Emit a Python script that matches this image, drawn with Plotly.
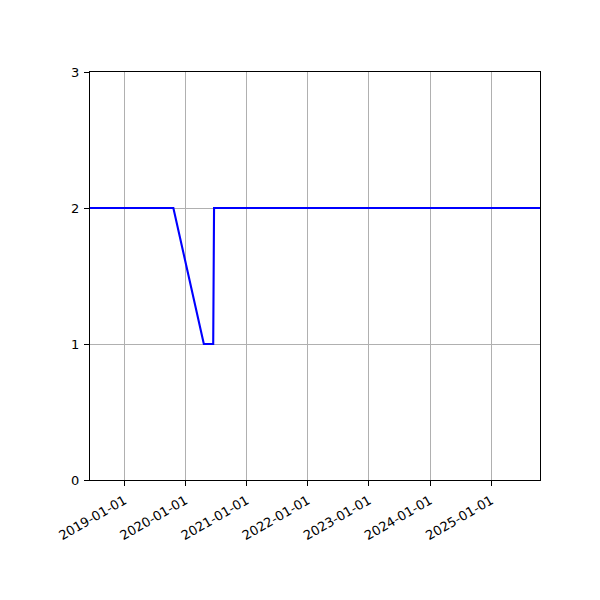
import plotly.graph_objects as go

# values
dates = ["2018-06-10", "2019-10-21", "2020-04-20", "2020-06-15",
         "2020-06-20", "2025-10-19"]
values = [2, 2, 1, 1, 2, 2]

x_ticks = ["2019-01-01", "2020-01-01", "2021-01-01", "2022-01-01",
           "2023-01-01", "2024-01-01", "2025-01-01"]
y_ticks = [0, 1, 2, 3]

fig = go.Figure(go.Scatter(x=dates, y=values, mode="lines",
                           line=dict(color="#0000ff", width=2.1),
                           showlegend=False))

axis_style = dict(showline=True, linecolor="black", linewidth=1.1,
                  mirror=True, ticks="outside", ticklen=5, tickwidth=1.1,
                  tickcolor="black", showgrid=True, gridcolor="#b0b0b0",
                  gridwidth=1.1, zeroline=False, ticklabelstandoff=2)

fig.update_xaxes(type="date", range=[dates[0], dates[-1]],
                 tickvals=x_ticks, ticktext=x_ticks, tickangle=-30,
                 **axis_style)
fig.update_yaxes(range=[0, 3], tickvals=y_ticks, **axis_style)

# page body adds ~8px offset, so margins are shifted to compensate
fig.update_layout(width=600, height=600,
                  margin=dict(l=82, r=68, t=64, b=128),
                  plot_bgcolor="white", paper_bgcolor="white",
                  font=dict(family="DejaVu Sans", size=13, color="black"))

fig.write_html("out.html")
